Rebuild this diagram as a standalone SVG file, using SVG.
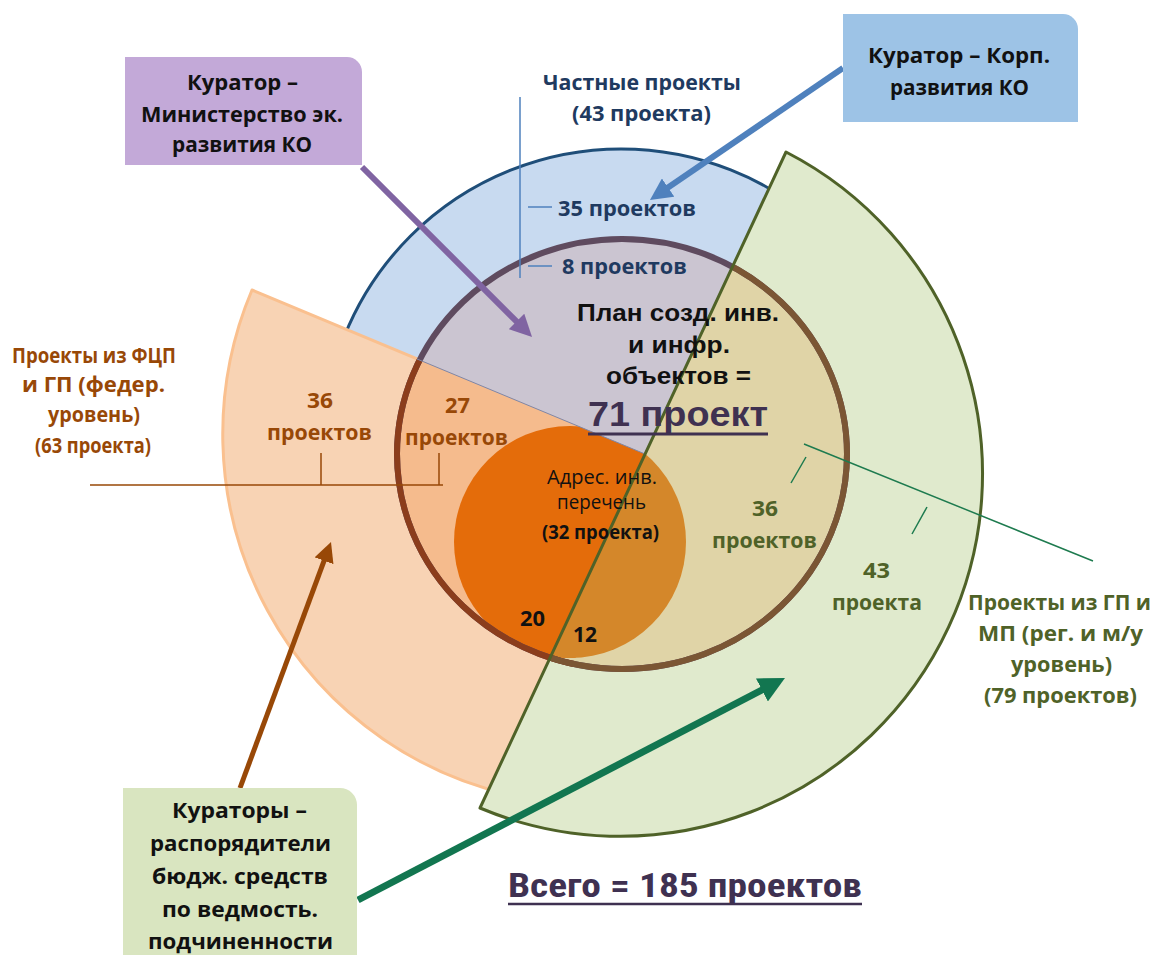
<svg xmlns="http://www.w3.org/2000/svg" width="1158" height="955" viewBox="0 0 1158 955">
<style>
.t{font-family:"Open Sans","Noto Sans","Liberation Sans",sans-serif;font-weight:700;font-size:22px}
.r{font-weight:400}
.ar{font-family:"Liberation Sans",Arial,sans-serif;font-weight:700}
.bx{font-size:22px}
.navy{fill:#1f3a60}
.brn{fill:#984807}
.olv{fill:#4f6228}
.blk{fill:#111111}
.dp{fill:#3f3151}
.lead{fill:none;stroke-width:1.5}
.arrow{fill:none}
</style>
<defs>
<path id="orangeP" d="M252,290 A370,370 0 0,0 527.8,798.4 L645,454 Z"/>
<path id="greenP" d="M786,152 A362.2,362.2 0 0,1 480,808 Z"/>
<ellipse id="inner" cx="622" cy="454" rx="225" ry="215"/>
<circle id="small" cx="570" cy="542" r="116"/>
<clipPath id="cOr"><use href="#orangeP"/></clipPath>
<clipPath id="cGr"><use href="#greenP"/></clipPath>
<marker id="ahP" markerUnits="userSpaceOnUse" markerWidth="22" markerHeight="22" refX="1" refY="11" orient="auto"><path d="M0,0 L22,11 L0,22 Z" fill="#8064a2"/></marker>
<marker id="ahB" markerUnits="userSpaceOnUse" markerWidth="22" markerHeight="22" refX="1" refY="11" orient="auto"><path d="M0,0 L22,11 L0,22 Z" fill="#4f81bd"/></marker>
<marker id="ahBr" markerUnits="userSpaceOnUse" markerWidth="20" markerHeight="20" refX="1" refY="10" orient="auto"><path d="M0,0 L20,10 L0,20 Z" fill="#984807"/></marker>
<marker id="ahG" markerUnits="userSpaceOnUse" markerWidth="26" markerHeight="26" refX="1" refY="13" orient="auto"><path d="M0,0 L26,13 L0,26 Z" fill="#127650"/></marker>
</defs>
<rect width="1158" height="955" fill="#ffffff"/>

<g id="private-ring">
<circle cx="621" cy="447" r="298" fill="#c8daf0" stroke="#1f4e79" stroke-width="3"/>
</g>

<g id="federal-sector">
<use href="#orangeP" fill="#f8d3b4" stroke="#fac08f" stroke-width="3" stroke-linejoin="round"/>
</g>

<g id="regional-sector-fill">
<use href="#greenP" fill="#e0eacd"/>
</g>

<g id="plan-circle">
<use href="#inner" fill="#cbc5d1"/>
<use href="#inner" fill="#f5bb8d" clip-path="url(#cOr)"/>
<use href="#inner" fill="#e0d4a7" clip-path="url(#cGr)"/>
</g>

<g id="address-list">
<use href="#small" fill="#e46c0a" clip-path="url(#cOr)"/>
<use href="#small" fill="#d4872a" clip-path="url(#cGr)"/>
</g>

<g id="plan-circle-outline">
<use href="#inner" fill="none" stroke="#5f4b5f" stroke-width="6"/>
<use href="#inner" fill="none" stroke="#8b3d1c" stroke-width="6" clip-path="url(#cOr)"/>
<use href="#inner" fill="none" stroke="#7b5634" stroke-width="6" clip-path="url(#cGr)"/>
<line x1="417" y1="359" x2="645" y2="454" stroke="#7f86a6" stroke-width="1"/>
</g>

<g id="regional-sector-outline">
<use href="#greenP" fill="none" stroke="#4f6228" stroke-width="3" stroke-linejoin="round"/>
</g>

<g id="leaders">
<path class="lead" stroke="#4f81bd" d="M520,97 V278 M528,207 H552 M528,266 H552"/>
<path class="lead" stroke="#984807" d="M90,485 H443 M321,453 V485 M439,453 V485"/>
<path class="lead" stroke="#1e7b4f" d="M804,444 L1093,561 M806,457 L791,483 M927,507 L912,534"/>
</g>

<g id="connectors">
<line class="arrow" x1="362" y1="167" x2="517.2" y2="322.2" stroke="#8064a2" stroke-width="6" marker-end="url(#ahP)"/>
<line class="arrow" x1="843" y1="68" x2="667.3" y2="188.1" stroke="#4f81bd" stroke-width="6" marker-end="url(#ahB)"/>
<line class="arrow" x1="240" y1="788" x2="324.4" y2="559.8" stroke="#984807" stroke-width="5" marker-end="url(#ahBr)"/>
<line class="arrow" x1="358" y1="900" x2="762.8" y2="689.5" stroke="#127650" stroke-width="7" marker-end="url(#ahG)"/>
</g>

<g id="inner-labels">
<text class="t ar blk" x="577" y="321" style="font-size:23px" textLength="202" lengthAdjust="spacingAndGlyphs">План созд. инв.</text>
<text class="t ar blk" x="628" y="353" style="font-size:23px" textLength="102" lengthAdjust="spacingAndGlyphs">и инфр.</text>
<text class="t ar blk" x="606" y="384" style="font-size:23px" textLength="145" lengthAdjust="spacingAndGlyphs">объектов =</text>
<text class="t ar dp" x="588" y="426" style="font-size:35px" textLength="180" lengthAdjust="spacingAndGlyphs">71 проект</text>
<line x1="588" y1="434" x2="768" y2="434" stroke="#3f3151" stroke-width="3"/>
<text class="t r blk" x="547" y="484" style="font-size:20px" textLength="110" lengthAdjust="spacingAndGlyphs">Адрес. инв.</text>
<text class="t r blk" x="557" y="509" style="font-size:20px" textLength="89" lengthAdjust="spacingAndGlyphs">перечень</text>
<text class="t blk" x="542" y="539" style="font-size:20px" textLength="117" lengthAdjust="spacingAndGlyphs">(32 проекта)</text>
<text class="t blk" x="520" y="626" textLength="25" lengthAdjust="spacingAndGlyphs">20</text>
<text class="t blk" x="573" y="642" textLength="24" lengthAdjust="spacingAndGlyphs">12</text>
</g>

<g id="private-labels">
<text class="t navy" x="543" y="90" textLength="198" lengthAdjust="spacingAndGlyphs">Частные проекты</text>
<text class="t navy" x="572" y="121" textLength="139" lengthAdjust="spacingAndGlyphs">(43 проекта)</text>
<text class="t navy" x="558" y="216" textLength="138" lengthAdjust="spacingAndGlyphs">35 проектов</text>
<text class="t navy" x="562" y="274" textLength="125" lengthAdjust="spacingAndGlyphs">8 проектов</text>
</g>

<g id="federal-labels">
<text class="t brn" x="307" y="408" textLength="26" lengthAdjust="spacingAndGlyphs">36</text>
<text class="t brn" x="267" y="440" textLength="105" lengthAdjust="spacingAndGlyphs">проектов</text>
<text class="t brn" x="445" y="413" textLength="25" lengthAdjust="spacingAndGlyphs">27</text>
<text class="t brn" x="405" y="445" textLength="103" lengthAdjust="spacingAndGlyphs">проектов</text>
<text class="t brn" x="12" y="363" textLength="164" lengthAdjust="spacingAndGlyphs">Проекты из ФЦП</text>
<text class="t brn" x="22" y="392" textLength="143" lengthAdjust="spacingAndGlyphs">и ГП (федер.</text>
<text class="t brn" x="48" y="422" textLength="92" lengthAdjust="spacingAndGlyphs">уровень)</text>
<text class="t brn" x="35" y="453" textLength="116" lengthAdjust="spacingAndGlyphs">(63 проекта)</text>
</g>

<g id="regional-labels">
<text class="t olv" x="752" y="516" textLength="26" lengthAdjust="spacingAndGlyphs">36</text>
<text class="t olv" x="712" y="548" textLength="105" lengthAdjust="spacingAndGlyphs">проектов</text>
<text class="t olv" x="863" y="578" textLength="27" lengthAdjust="spacingAndGlyphs">43</text>
<text class="t olv" x="832" y="610" textLength="90" lengthAdjust="spacingAndGlyphs">проекта</text>
<text class="t olv" x="968" y="610" textLength="183" lengthAdjust="spacingAndGlyphs">Проекты из ГП и</text>
<text class="t olv" x="978" y="641" textLength="165" lengthAdjust="spacingAndGlyphs">МП (рег. и м/у</text>
<text class="t olv" x="1011" y="672" textLength="101" lengthAdjust="spacingAndGlyphs">уровень)</text>
<text class="t olv" x="984" y="703" textLength="153" lengthAdjust="spacingAndGlyphs">(79 проектов)</text>
</g>

<g id="box-ministry">
<path d="M125,57 H347 A15,15 0 0 1 362,72 V165 H125 Z" fill="#c3a9d8"/>
<text class="t bx blk" x="187" y="90" textLength="111" lengthAdjust="spacingAndGlyphs">Куратор –</text>
<text class="t bx blk" x="141" y="122" textLength="202" lengthAdjust="spacingAndGlyphs">Министерство эк.</text>
<text class="t bx blk" x="172" y="152" textLength="140" lengthAdjust="spacingAndGlyphs">развития КО</text>
</g>

<g id="box-corp">
<path d="M843,14 H1063 A15,15 0 0 1 1078,29 V122 H843 Z" fill="#9dc3e6"/>
<text class="t bx blk" x="868" y="63" textLength="182" lengthAdjust="spacingAndGlyphs">Куратор – Корп.</text>
<text class="t bx blk" x="890" y="95" textLength="139" lengthAdjust="spacingAndGlyphs">развития КО</text>
</g>

<g id="box-budget">
<path d="M123,788 H340 A17,17 0 0 1 357,805 V955 H123 Z" fill="#d9e5c0"/>
<text class="t bx blk" x="172" y="818" textLength="135" lengthAdjust="spacingAndGlyphs">Кураторы –</text>
<text class="t bx blk" x="150" y="851" textLength="181" lengthAdjust="spacingAndGlyphs">распорядители</text>
<text class="t bx blk" x="152" y="884" textLength="176" lengthAdjust="spacingAndGlyphs">бюдж. средств</text>
<text class="t bx blk" x="162" y="917" textLength="156" lengthAdjust="spacingAndGlyphs">по ведмость.</text>
<text class="t bx blk" x="148" y="949" textLength="185" lengthAdjust="spacingAndGlyphs">подчиненности</text>
</g>

<g id="total">
<text class="t dp" x="508" y="897" style="font-family:'Liberation Sans Narrow','Roboto Condensed','Liberation Sans',sans-serif;font-size:33px" textLength="354" lengthAdjust="spacingAndGlyphs">Всего = 185 проектов</text>
<line x1="508" y1="904" x2="862" y2="904" stroke="#3f3151" stroke-width="2.5"/>
</g>
</svg>
